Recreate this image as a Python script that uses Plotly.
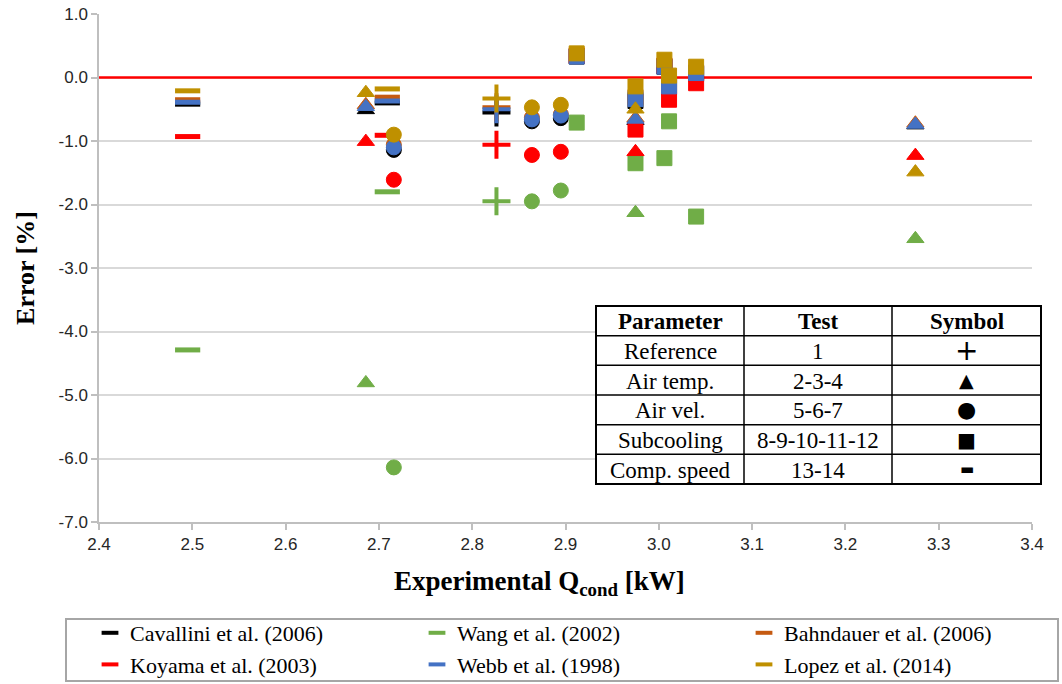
import plotly.graph_objects as go

# ---- figure geometry (pixels) ----
W, H = 1062, 684
ML, MR, MT, MB = 99, 30, 14, 162
PW, PH = W - ML - MR, H - MT - MB

# ---- data ----
series_names = ["Cavallini et al. (2006)", "Wang et al. (2002)", "Bahndauer et al. (2006)",
                "Koyama et al. (2003)", "Webb et al. (1998)", "Lopez et al. (2014)"]
series_colors = ["#000000", "#70AD47", "#C55A11", "#FF0000", "#4472C4", "#BF9000"]

# experimental condenser capacity [kW] of tests 1..14
test_q = [2.826,                       # 1  reference
          2.686, 2.975, 3.275,         # 2-4 air temperature
          2.716, 2.864, 2.895,         # 5-7 air velocity
          2.912, 2.975, 3.006, 3.011, 3.040,  # 8-12 subcooling
          2.495, 2.709]                # 13-14 compressor speed
test_group = ["ref", "temp", "temp", "temp", "vel", "vel", "vel",
              "sub", "sub", "sub", "sub", "sub", "comp", "comp"]

# prediction error [%] per correlation, tests 1..14
cavallini = [-0.55, -0.51, -0.68, -0.75, -1.14, -0.69, -0.64, 0.33, -0.37, 0.17, -0.15, 0.06, -0.42, -0.40]
wang      = [-1.95, -4.81, -2.13, -2.54, -6.14, -1.95, -1.78, -0.71, -1.35, -1.27, -0.69, -2.19, -4.29, -1.80]
bahndauer = [-0.47, -0.43, -0.64, -0.72, -1.06, -0.63, -0.58, 0.35, -0.31, 0.19, -0.12, 0.08, -0.35, -0.31]
koyama    = [-1.06, -1.01, -1.17, -1.23, -1.61, -1.22, -1.17, 0.34, -0.82, 0.18, -0.35, -0.09, -0.93, -0.91]
webb      = [-0.50, -0.46, -0.66, -0.74, -1.10, -0.66, -0.60, 0.33, -0.34, 0.17, -0.14, 0.07, -0.39, -0.37]
lopez     = [-0.33, -0.24, -0.50, -1.49, -0.90, -0.47, -0.43, 0.38, -0.14, 0.28, 0.03, 0.17, -0.21, -0.18]
series_values = [cavallini, wang, bahndauer, koyama, webb, lopez]

x_ticks = [2.4, 2.5, 2.6, 2.7, 2.8, 2.9, 3.0, 3.1, 3.2, 3.3, 3.4]
x_tick_text = ["2.4", "2.5", "2.6", "2.7", "2.8", "2.9", "3.0", "3.1", "3.2", "3.3", "3.4"]
y_ticks = [1, 0, -1, -2, -3, -4, -5, -6, -7]
y_tick_text = ["1.0", "0.0", "-1.0", "-2.0", "-3.0", "-4.0", "-5.0", "-6.0", "-7.0"]

table_header = ["Parameter", "Test", "Symbol"]
table_param = ["Reference", "Air temp.", "Air vel.", "Subcooling", "Comp. speed"]
table_test = ["1", "2-3-4", "5-6-7", "8-9-10-11-12", "13-14"]
table_group = ["ref", "temp", "vel", "sub", "comp"]

# ---- marker styles per test group ----
sym = {"ref": "cross-thin", "temp": "triangle-up", "vel": "circle", "sub": "square", "comp": "line-ew"}
msize = {"ref": 20, "temp": 15, "vel": 15, "sub": 15, "comp": 18}
mline = {"ref": 4, "temp": 1, "vel": 1, "sub": 1, "comp": 5}
glyph = {"ref": ("+", 28), "temp": ("\u25B2", 19), "vel": ("\u25CF", 22), "sub": ("\u25A0", 20), "comp": ("\u25AC", 15)}

fig = go.Figure()

# zero-error reference line (drawn first so the markers sit on top)
fig.add_trace(go.Scatter(x=[x_ticks[0], x_ticks[-1]], y=[0, 0], mode="lines",
                         line=dict(color="#FF0000", width=2.5),
                         showlegend=False, hoverinfo="skip"))

for name, color, vals in zip(series_names, series_colors, series_values):
    fig.add_trace(go.Scatter(
        x=test_q, y=vals, mode="markers", name=name, showlegend=False,
        marker=dict(symbol=[sym[g] for g in test_group],
                    size=[msize[g] for g in test_group],
                    color=color, opacity=1,
                    line=dict(color=color, width=[mline[g] for g in test_group])),
        hovertemplate=name + "<br>Q=%{x:.3f} kW<br>Error=%{y:.2f}%<extra></extra>",
    ))

# legend entries drawn as short dashes
for name, color in zip(series_names, series_colors):
    fig.add_trace(go.Scatter(
        x=[None], y=[None], mode="markers", name=name, showlegend=True,
        marker=dict(symbol="line-ew", size=12, color=color, opacity=1, line=dict(color=color, width=4)),
    ))


def px_x(p):
    return (p - ML) / PW


def px_y(p):
    return (H - MB - p) / PH


shapes = []
annotations = []

# ---- test-matrix table ----
col_edges = [596, 744, 892, 1041]
row_top, row_h, n_rows = 306, 29.67, 6
row_edges = [row_top + i * row_h for i in range(n_rows + 1)]
shapes.append(dict(type="rect", xref="paper", yref="paper",
                   x0=px_x(col_edges[0]), x1=px_x(col_edges[-1]),
                   y0=px_y(row_edges[-1]), y1=px_y(row_edges[0]),
                   fillcolor="white", line=dict(color="black", width=2), layer="above"))
for cx in col_edges[1:-1]:
    shapes.append(dict(type="line", xref="paper", yref="paper",
                       x0=px_x(cx), x1=px_x(cx), y0=px_y(row_edges[-1]), y1=px_y(row_edges[0]),
                       line=dict(color="black", width=1.5), layer="above"))
for ry in row_edges[1:-1]:
    shapes.append(dict(type="line", xref="paper", yref="paper",
                       x0=px_x(col_edges[0]), x1=px_x(col_edges[-1]), y0=px_y(ry), y1=px_y(ry),
                       line=dict(color="black", width=1.5), layer="above"))

col_centers = [(col_edges[i] + col_edges[i + 1]) / 2 for i in range(3)]
row_centers = [(row_edges[i] + row_edges[i + 1]) / 2 for i in range(n_rows)]
serif = "Liberation Serif, Times New Roman, serif"


def cell(xc, yc, text, family=serif, size=23):
    annotations.append(dict(xref="paper", yref="paper", x=px_x(xc), y=px_y(yc),
                            xanchor="center", yanchor="middle", text=text, showarrow=False,
                            font=dict(family=family, size=size, color="black")))


for ci, txt in enumerate(table_header):
    cell(col_centers[ci], row_centers[0] + 1, "<b>" + txt + "</b>")
for ri in range(5):
    yc = row_centers[ri + 1] + 1
    cell(col_centers[0], yc, table_param[ri])
    cell(col_centers[1], yc, table_test[ri])
    g, gs = glyph[table_group[ri]]
    cell(col_centers[2], row_centers[ri + 1], g, family="DejaVu Sans", size=gs)

# x-axis title
cell(539, 583, "<b>Experimental Q<sub>cond</sub> [kW]</b>", size=27)

# legend frame
shapes.append(dict(type="rect", xref="paper", yref="paper",
                   x0=px_x(66), x1=px_x(1058), y0=px_y(681), y1=px_y(619),
                   line=dict(color="#A6A6A6", width=2), fillcolor="rgba(0,0,0,0)", layer="above"))

fig.update_layout(
    width=W, height=H,
    margin=dict(l=ML, r=MR, t=MT, b=MB, autoexpand=False),
    paper_bgcolor="white", plot_bgcolor="white",
    shapes=shapes, annotations=annotations,
    showlegend=True,
    legend=dict(orientation="h", x=px_x(90), y=px_y(612), xanchor="left", yanchor="top",
                entrywidth=282, entrywidthmode="pixels", itemwidth=30,
                font=dict(family=serif, size=22, color="black"),
                bgcolor="rgba(0,0,0,0)", borderwidth=0, tracegroupgap=0),
    xaxis=dict(range=[2.4, 3.4], tickvals=x_ticks, ticktext=x_tick_text,
               showgrid=False, zeroline=False, showline=True, linecolor="#BFBFBF", linewidth=1.5,
               ticks="outside", ticklen=6, tickcolor="#BFBFBF", tickwidth=1.5,
               tickfont=dict(family="Liberation Sans, Arial, sans-serif", size=17, color="#262626")),
    yaxis=dict(range=[-7, 1], tickvals=y_ticks, ticktext=y_tick_text,
               showgrid=True, gridcolor="#D9D9D9", gridwidth=1.5, zeroline=False,
               showline=True, linecolor="#BFBFBF", linewidth=1.5,
               ticks="outside", ticklen=6, tickcolor="#BFBFBF", tickwidth=1.5,
               tickfont=dict(family="Liberation Sans, Arial, sans-serif", size=17, color="#262626"),
               title=dict(text="<b>Error [%]</b>", standoff=16,
                          font=dict(family=serif, size=26, color="black"))),
)

fig.write_html("out.html")
